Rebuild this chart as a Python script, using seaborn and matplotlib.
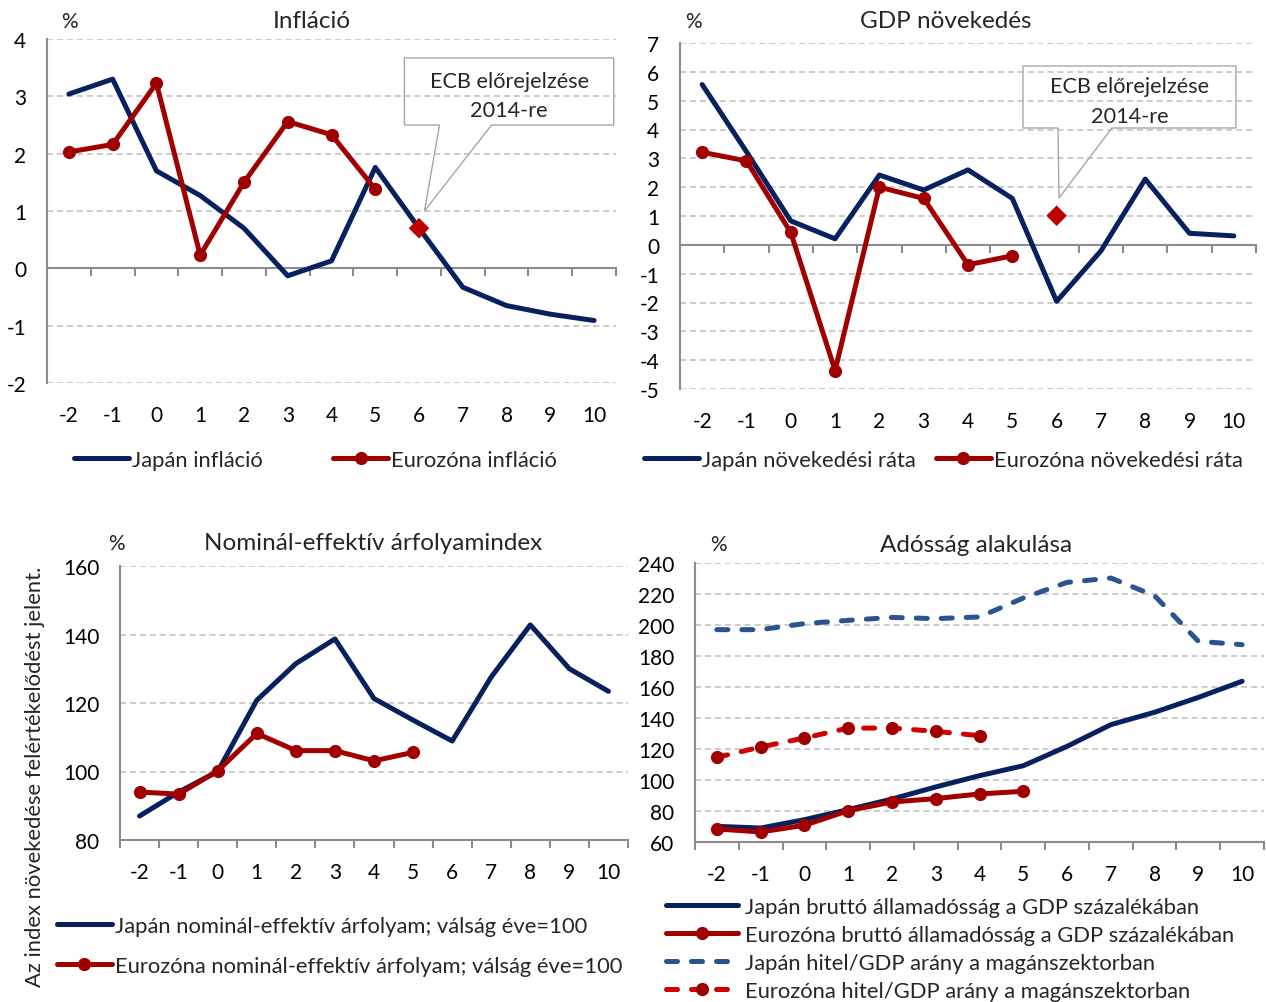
import numpy as np
import pandas as pd
import matplotlib
matplotlib.use("Agg")
import matplotlib.pyplot as plt
from matplotlib.patches import Polygon
import seaborn as sns

# ---------------- data ----------------
years = list(range(-2, 11))
year_labels = [str(y) for y in years]

jp_infl = [3.04, 3.30, 1.70, 1.27, 0.70, -0.13, 0.13, 1.76, 0.70, -0.33, -0.65, -0.80, -0.91]
ez_infl = [2.03, 2.16, 3.23, 0.23, 1.50, 2.56, 2.33, 1.38]
ecb_infl_x = [6]
ecb_infl_y = [0.70]

jp_gdp = [5.56, 3.23, 0.83, 0.21, 2.42, 1.90, 2.60, 1.61, -1.96, -0.21, 2.28, 0.40, 0.31]
ez_gdp = [3.21, 2.91, 0.43, -4.36, 2.00, 1.61, -0.69, -0.38]
ecb_gdp_x = [6]
ecb_gdp_y = [1.01]

jp_neer = [87.0, 94.0, 100.0, 120.8, 131.5, 138.7, 121.3, 115.0, 108.9, 127.6, 142.8, 130.0, 123.4]
ez_neer = [94.0, 93.4, 100.2, 111.1, 106.1, 106.1, 103.1, 105.6]

jp_gov_debt = [70.1, 69.0, 74.4, 80.9, 87.7, 95.5, 102.8, 109.2, 121.7, 135.7, 143.7, 153.3, 163.7]
ez_gov_debt = [68.4, 66.5, 70.8, 80.2, 85.8, 88.0, 91.0, 92.7]
jp_priv_credit = [197.0, 197.0, 200.9, 203.0, 204.9, 204.1, 205.2, 217.4, 227.5, 230.3, 218.9, 189.5, 187.3]
ez_priv_credit = [114.6, 121.3, 127.1, 133.5, 133.5, 131.4, 128.6]

# ---------------- style ----------------
sns.set_theme(style="white")
plt.rcParams["font.family"] = ["Lato", "DejaVu Sans"]
FS_TICK = 15
FS_LEG = 15.8
FS_TITLE = 17.5
FS_CALL = 15.6
NAVY = "#06215E"
RED = "#A00000"
BRIGHT = "#C00000"
BLUE2 = "#2A5490"
GRAY = "#8C8C8C"
GRID = "#BFBFBF"

W, H = 1266, 1003
fig = plt.figure(figsize=(W / 100, H / 100), dpi=100)


def px_axes(left, right, top, bottom):
    return fig.add_axes([left / W, 1 - bottom / H, (right - left) / W, (bottom - top) / H])


def style_axes(ax, ylim, yticks, axis_y, grid_ticks):
    ax.set_xlim(-2.5, 10.5)
    ax.set_ylim(*ylim)
    ax.set_yticks(yticks)
    ax.set_yticklabels([str(v) for v in yticks], fontsize=FS_TICK)
    for s in ["top", "right", "bottom"]:
        ax.spines[s].set_visible(False)
    ax.spines["left"].set_color(GRAY)
    ax.spines["left"].set_linewidth(1.5)
    ax.tick_params(axis="y", length=6, width=1.5, color=GRAY, pad=9, labelcolor="black")
    ax.set_xticks(years)
    ax.set_xticklabels(year_labels, fontsize=FS_TICK)
    ax.tick_params(axis="x", length=0, pad=16, labelcolor="black")
    for g in grid_ticks:
        ax.axhline(g, color=GRID, lw=1.1, ls=(0, (4, 2.5)), zorder=0)
    frac = (axis_y - ylim[0]) / (ylim[1] - ylim[0])
    sec = ax.secondary_xaxis(frac)
    sec.set_xticks([y + 0.5 for y in [-3] + years])
    sec.tick_params(axis="x", length=6, width=1.5, color=GRAY, labelbottom=False)
    sec.spines["bottom"].set_color(GRAY)
    sec.spines["bottom"].set_linewidth(1.5)
    ax.set_xlabel("")
    ax.set_ylabel("")


def line(ax, y, x=None, color=NAVY, label=None, marker=None, lw=3.6, dashes=None, mfc=None):
    if x is None:
        x = years[: len(y)]
    kw = dict(x=x, y=y, ax=ax, color=color, lw=lw, estimator=None, sort=False,
              label=label, solid_joinstyle="round", solid_capstyle="round")
    if marker:
        kw.update(marker=marker, markersize=9.5, markeredgewidth=0,
                  markerfacecolor=mfc or color)
    if dashes is not None:
        kw.pop("solid_joinstyle"); kw.pop("solid_capstyle")
        kw.update(dashes=dashes, dash_capstyle="round", dash_joinstyle="round")
    sns.lineplot(**kw)


def callout(ax, box, roots, tip, lines):
    x0, x1, y0, y1 = box  # left, right, bottom, top (data)
    r0, r1 = roots
    pts = [(r0, y0), (x0, y0), (x0, y1), (x1, y1), (x1, y0), (r1, y0), tip]
    ax.add_patch(Polygon(pts, closed=True, fill=False, edgecolor="#A6A6A6", lw=1.0, zorder=5))
    cx = (x0 + x1) / 2
    cy = y0 + 0.44 * (y1 - y0)
    ax.text(cx, cy, "\n".join(lines), ha="center", va="center", fontsize=FS_CALL,
            linespacing=1.6, zorder=6)


def legend(ax, x, y, ncol, hl, hp, **kw):
    h, l = ax.get_legend_handles_labels()
    ax.legend(h, l, loc="center left", bbox_to_anchor=(x / W, 1 - y / H),
              bbox_transform=fig.transFigure, ncol=ncol, frameon=False, fontsize=FS_LEG,
              handlelength=hl, handletextpad=hp, borderpad=0, borderaxespad=0, **kw)


# ---------------- top-left: inflation ----------------
ax1 = px_axes(47, 616, 40, 384)
line(ax1, jp_infl, color=NAVY, label="Japán infláció")
line(ax1, ez_infl, color=RED, label="Eurozóna infláció", marker="o")
sns.scatterplot(x=ecb_infl_x, y=ecb_infl_y, ax=ax1, marker="D", s=110, color=BRIGHT,
                edgecolor="none", zorder=6, legend=False)
style_axes(ax1, (-2, 4), list(range(-2, 5)), 0, [-2, -1, 1, 2, 3, 4])
callout(ax1, (5.666, 10.449, 2.50, 3.669), (6.467, 7.657), (6.124, 1.0),
        ["ECB előrejelzése", "2014-re"])
legend(ax1, 74, 461, 2, 2.5, 0.15, columnspacing=3.2)

# ---------------- top-right: GDP ----------------
ax2 = px_axes(680, 1256, 44, 390)
line(ax2, jp_gdp, color=NAVY, label="Japán növekedési ráta")
line(ax2, ez_gdp, color=RED, label="Eurozóna növekedési ráta", marker="o")
sns.scatterplot(x=ecb_gdp_x, y=ecb_gdp_y, ax=ax2, marker="D", s=110, color=BRIGHT,
                edgecolor="none", zorder=6, legend=False)
style_axes(ax2, (-5, 7), list(range(-5, 8)), 0, [v for v in range(-5, 8) if v != 0])
callout(ax2, (5.241, 10.046, 4.052, 6.202), (6.031, 7.249), (6.053, 1.624),
        ["ECB előrejelzése", "2014-re"])
legend(ax2, 644, 461, 2, 2.5, 0.15, columnspacing=0.9)

# ---------------- bottom-left: NEER ----------------
ax3 = px_axes(120, 628, 567, 841)
line(ax3, jp_neer, color=NAVY, label="Japán nominál-effektív árfolyam; válság éve=100")
line(ax3, ez_neer, color=RED, label="Eurozóna nominál-effektív árfolyam; válság éve=100", marker="o")
style_axes(ax3, (80, 160), [80, 100, 120, 140, 160], 80, [100, 120, 140, 160])
legend(ax3, 57, 947, 1, 2.5, 0.15, labelspacing=0.92)
fig.text(35 / W, 1 - 777 / H, "Az index növekedése felértékelődést jelent.",
         rotation=90, ha="center", va="center", fontsize=FS_LEG)

# ---------------- bottom-right: debt ----------------
ax4 = px_axes(695, 1264, 564, 843)
line(ax4, jp_gov_debt, color=NAVY, label="Japán bruttó államadósság a GDP százalékában")
line(ax4, ez_gov_debt, color=RED, label="Eurozóna bruttó államadósság a GDP százalékában", marker="o")
line(ax4, jp_priv_credit, color=BLUE2, label="Japán hitel/GDP arány a magánszektorban",
     dashes=(2.2, 2.8))
line(ax4, ez_priv_credit, color="#D00000", label="Eurozóna hitel/GDP arány a magánszektorban",
     marker="o", dashes=(2.2, 2.8), mfc=RED)
style_axes(ax4, (60, 240), list(range(60, 241, 20)), 60, list(range(80, 241, 20)))
legend(ax4, 666, 950, 1, 3.3, 0.3, labelspacing=0.36)

# ---------------- titles and units ----------------
for (x, y, t) in [(312, 22, "Infláció"), (946, 22, "GDP növekedés"),
                  (373, 544, "Nominál-effektív árfolyamindex"), (976, 545, "Adósság alakulása")]:
    fig.text(x / W, 1 - y / H, t, ha="center", va="center", fontsize=FS_TITLE)
for (x, y) in [(69, 22), (693, 22), (116, 544), (718, 545)]:
    fig.text(x / W, 1 - y / H, "%", ha="center", va="center", fontsize=FS_TICK)

fig.savefig("out.png", dpi=100, facecolor="white")
